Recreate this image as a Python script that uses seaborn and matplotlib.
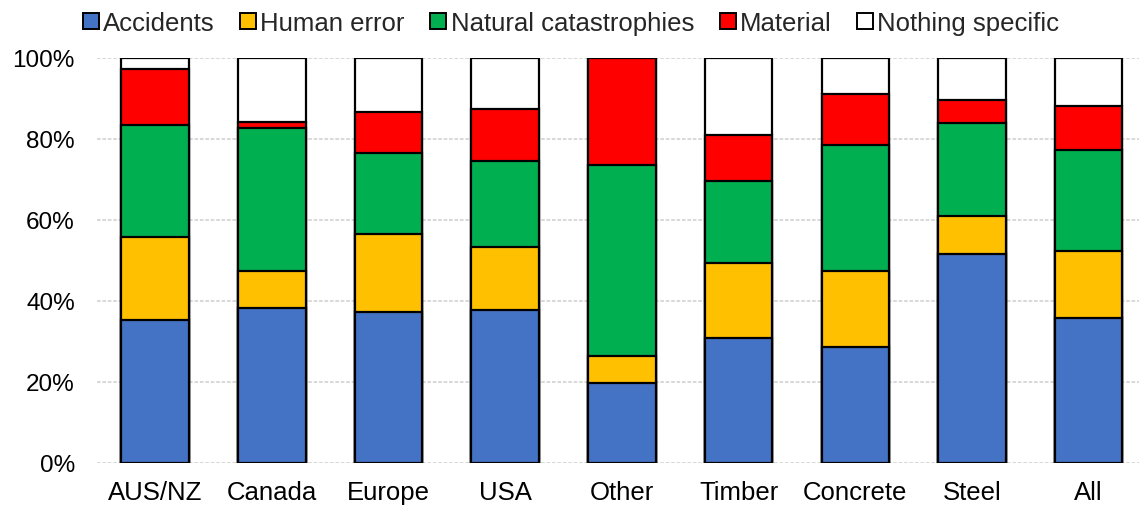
import numpy as np
import pandas as pd
import matplotlib
matplotlib.use("Agg")
import matplotlib.pyplot as plt
import seaborn as sns
from matplotlib.patches import Patch
from matplotlib.ticker import FuncFormatter
from matplotlib import font_manager

categories = ["AUS/NZ", "Canada", "Europe", "USA", "Other", "Timber", "Concrete", "Steel", "All"]
accidents = [35.3, 38.3, 37.3, 37.8, 19.8, 30.9, 28.6, 51.6, 35.8]
human_error = [20.5, 9.1, 19.2, 15.5, 6.6, 18.5, 18.8, 9.4, 16.5]
natural = [27.7, 35.3, 20.0, 21.3, 47.2, 20.2, 31.1, 23.0, 25.0]
material = [13.8, 1.5, 10.2, 12.8, 26.4, 11.4, 12.6, 5.6, 10.8]
nothing = [100 - a - b - c - d for a, b, c, d in zip(accidents, human_error, natural, material)]

series_names = ["Accidents", "Human error", "Natural catastrophies", "Material", "Nothing specific"]
colors = ["#4472C4", "#FFC000", "#00B050", "#FF0000", "#FFFFFF"]

sns.set_theme(style="white")
avail = {f.name for f in font_manager.fontManager.ttflist}
fam = "Liberation Sans Narrow" if "Liberation Sans Narrow" in avail else "Liberation Sans"
plt.rcParams["font.family"] = [fam, "DejaVu Sans"]

df = pd.DataFrame({"cat": categories, "Accidents": accidents, "Human error": human_error,
                   "Natural catastrophies": natural, "Material": material,
                   "Nothing specific": nothing})
cum = df[series_names].cumsum(axis=1)

fig = plt.figure(figsize=(11.39, 5.06), dpi=100)
ax = fig.add_axes([97 / 1139, 42 / 506, 1050 / 1139, 405 / 506])

for name, col in reversed(list(zip(series_names, colors))):
    sns.barplot(x=df["cat"], y=cum[name], color=col, saturation=1, width=0.58,
                edgecolor="black", linewidth=1.6, ax=ax, zorder=3)

ax.set_ylim(0, 100)
ax.set_xlim(-0.5, len(categories) - 0.5)
ax.set_yticks([0, 20, 40, 60, 80, 100])
ax.yaxis.set_major_formatter(FuncFormatter(lambda v, p: f"{int(v)}%"))
ax.set_xlabel("")
ax.set_ylabel("")
ax.grid(axis="y", color="#D6D6D6", linestyle=(0, (2, 1)), linewidth=1.3, zorder=0)
ax.set_axisbelow(True)
for s in ax.spines.values():
    s.set_visible(False)
ax.tick_params(axis="both", colors="black", length=0)
ax.tick_params(axis="x", labelsize=18.5, pad=12)
ax.tick_params(axis="y", labelsize=17.5, pad=16)

handles = [Patch(facecolor=c, edgecolor="black", linewidth=1.4, label=n) for n, c in zip(series_names, colors)]
fig.legend(handles=handles, loc="upper left", bbox_to_anchor=(83 / 1139, 1 - 12 / 506), ncol=5, frameon=False,
           fontsize=18.5, borderpad=0, borderaxespad=0, handlelength=0.62, handleheight=0.62,
           handletextpad=0.16, columnspacing=1.0)

fig.savefig("out.png", dpi=100)
